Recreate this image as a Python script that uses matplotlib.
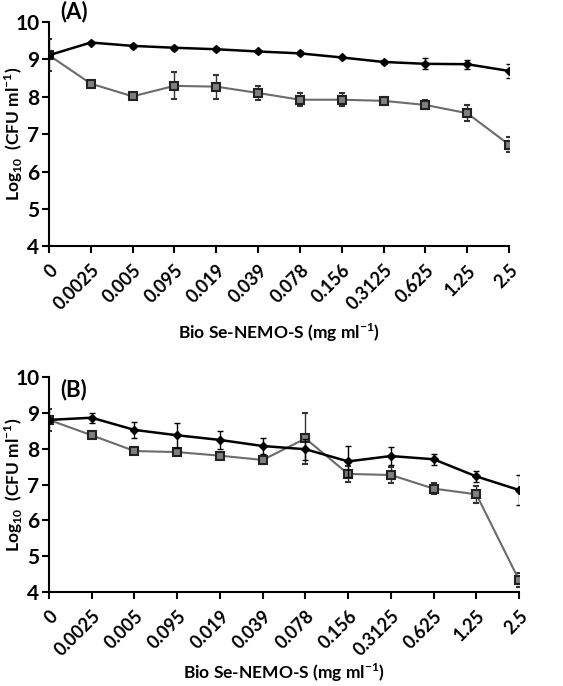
import matplotlib.pyplot as plt

plt.rcParams['font.family'] = ['Lato', 'DejaVu Sans']
plt.rcParams['mathtext.fontset'] = 'custom'
plt.rcParams['mathtext.rm'] = 'Lato'
plt.rcParams['mathtext.bf'] = 'Lato:bold'

conc = ['0', '0.0025', '0.005', '0.095', '0.019', '0.039', '0.078',
        '0.156', '0.3125', '0.625', '1.25', '2.5']

# panel A
a_black = [9.11, 9.45, 9.36, 9.31, 9.27, 9.21, 9.16, 9.05, 8.93, 8.88, 8.87, 8.69]
a_black_err = [0.05, 0.05, 0.05, 0.05, 0.05, 0.05, 0.05, 0.05, 0.05, 0.15, 0.12, 0.19]
a_grey = [9.11, 8.35, 8.01, 8.29, 8.27, 8.10, 7.92, 7.92, 7.89, 7.78, 7.56, 6.72]
a_grey_err = [0.43, 0.07, 0.06, 0.36, 0.32, 0.18, 0.17, 0.17, 0.10, 0.12, 0.21, 0.21]

# panel B
b_black = [8.81, 8.87, 8.53, 8.38, 8.25, 8.08, 7.99, 7.65, 7.80, 7.71, 7.23, 6.85]
b_black_err = [0.05, 0.14, 0.22, 0.35, 0.25, 0.23, 0.29, 0.43, 0.24, 0.16, 0.16, 0.42]
b_grey = [8.81, 8.38, 7.94, 7.91, 7.81, 7.69, 8.29, 7.30, 7.27, 6.89, 6.73, 4.33]
b_grey_err = [0.30, 0.07, 0.06, 0.08, 0.06, 0.10, 0.70, 0.22, 0.22, 0.16, 0.24, 0.20]

fig = plt.figure(figsize=(5.63, 6.86), dpi=100)
axA = fig.add_axes([0.087, 0.641, 0.817, 0.327])
axB = fig.add_axes([0.087, 0.137, 0.835, 0.313])

x = list(range(len(conc)))
for ax, blk, blk_e, gry, gry_e, xlab_y in [
        (axA, a_black, a_black_err, a_grey, a_grey_err, -0.335),
        (axB, b_black, b_black_err, b_grey, b_grey_err, -0.325)]:
    ax.errorbar(x, gry, yerr=gry_e, color='#6b6b6b', lw=1.5, marker='s', ms=6,
                mfc='#808080', mec='#222222', mew=1.5, ecolor='#333333',
                elinewidth=1, capsize=2, zorder=2)
    ax.errorbar(x, blk, yerr=blk_e, color='black', lw=1.8, marker='D', ms=4,
                mfc='black', mec='black', ecolor='black',
                elinewidth=1, capsize=2, zorder=3)
    ax.set_xlim(0, 11)
    ax.set_ylim(4, 10)
    ax.set_yticks([4, 5, 6, 7, 8, 9, 10])
    ax.set_xticks(x)
    ax.set_xticklabels(conc, rotation=45, ha='right', rotation_mode='anchor',
                       fontweight='bold', fontsize=13)
    for lab in ax.get_yticklabels():
        lab.set_fontweight('bold')
        lab.set_fontsize(15)
    ax.spines['top'].set_visible(False)
    ax.spines['right'].set_visible(False)
    ax.spines['left'].set_linewidth(1.5)
    ax.spines['bottom'].set_linewidth(1.5)
    ax.tick_params(axis='both', width=1.5, length=5, direction='out')
    ax.tick_params(axis='x', pad=6)
    ax.tick_params(axis='y', pad=2)
    ax.set_ylabel(r'Log$_{\mathbf{10}}$  (CFU ml$^{\mathbf{-1}}$)',
                  fontweight='bold', fontsize=12.5)
    ax.set_xlabel(r'Bio Se-NEMO-S (mg ml$^{\mathbf{-1}}$)', fontsize=12.5,
                  fontweight='bold')
    w = ax.get_position().width * 563
    ax.yaxis.set_label_coords(-24 / w, 0.5)
    ax.xaxis.set_label_coords(0.5, xlab_y)

axA.text(0.025, 1.0, '(A)', transform=axA.transAxes, fontsize=16,
         fontweight='bold', va='bottom', ha='left')
axB.text(0.025, 0.995, '(B)', transform=axB.transAxes, fontsize=16,
         fontweight='bold', va='top', ha='left')

fig.savefig('out.png', dpi=100)
